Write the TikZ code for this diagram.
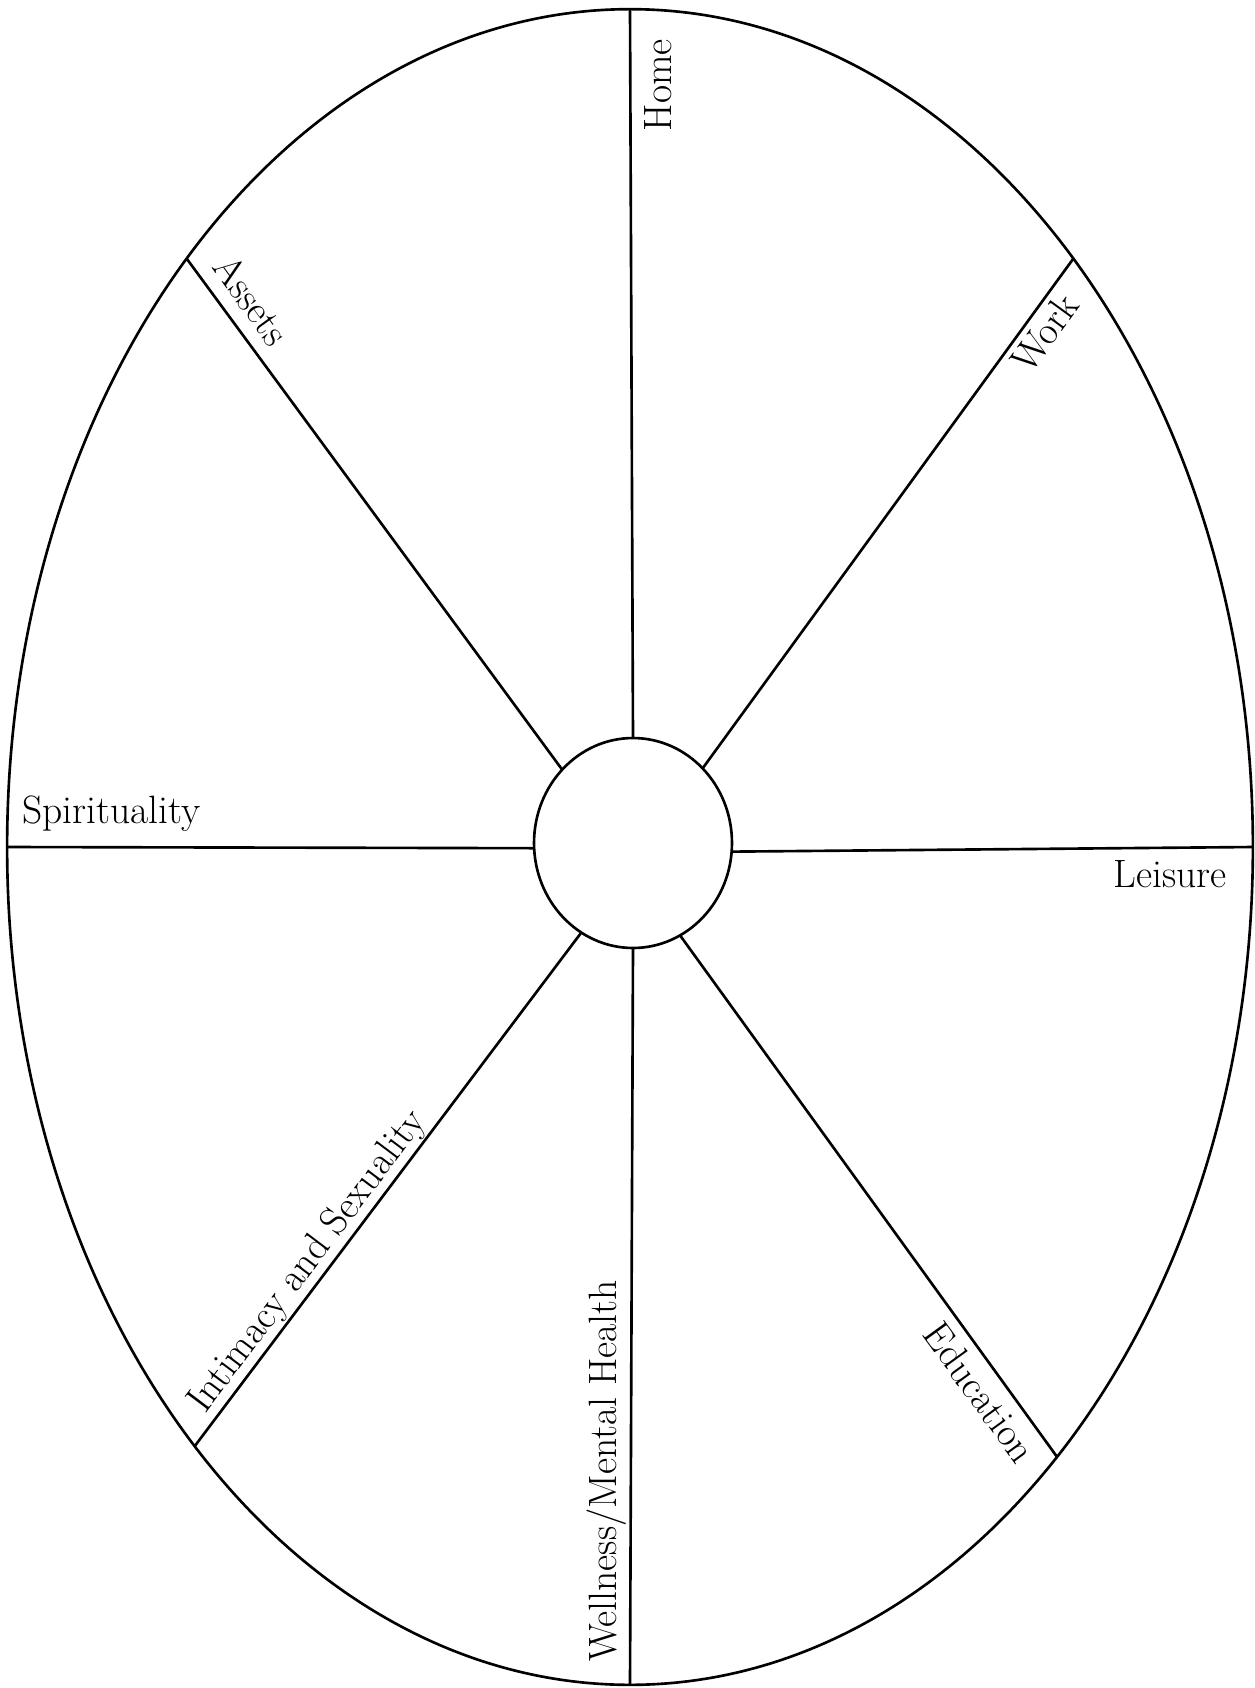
\documentclass[tikz,border=0pt]{standalone}
\usetikzlibrary{shapes.geometric}

\tikzset{
  rim/.style   ={draw, ellipse, line width=1.5pt, inner sep=0pt, outer sep=0pt},
  spoke/.style ={-, line width=1.5pt},
  area/.style  ={font=\fontsize{22.5}{26}\selectfont, inner sep=0pt},
}

\begin{document}
\begin{tikzpicture}[x=0.02cm, y=-0.02cm]
\useasboundingbox (0,0) rectangle (1255,1688);

\node[rim, minimum width=24.92cm, minimum height=33.52cm] (wheel) at (630,847) {};
\node[rim, minimum width=3.96cm, minimum height=4.2cm] (hub) at (633,843) {};

% spokes: hub anchor / rim anchor
\foreach \h/\w in {north/north, 47/53, 355/east, 297/305,
                   south/south, 240/234, 183/west, 134/127} {
  \draw[spoke] (hub.\h) -- (wheel.\w);
}

\node[area, rotate=90]  (home)   at (658,85)    {Home};
\node[area, rotate=54]  (work)   at (1045,333)  {Work};
\node[area, anchor=base east] (leisure) at (1227,887) {Leisure};
\node[area, rotate=-54] (edu)    at (980,1392)  {Education};
\node[area, rotate=90]  (health) at (607,1471)  {Wellness/Mental Health};
\node[area, rotate=53]  (intim)  at (308,1262)  {Intimacy and Sexuality};
\node[area, anchor=base west] (spirit) at (22,823) {Spirituality};
\node[area, rotate=-54] (assets) at (252,300)   {Assets};

\end{tikzpicture}
\end{document}
